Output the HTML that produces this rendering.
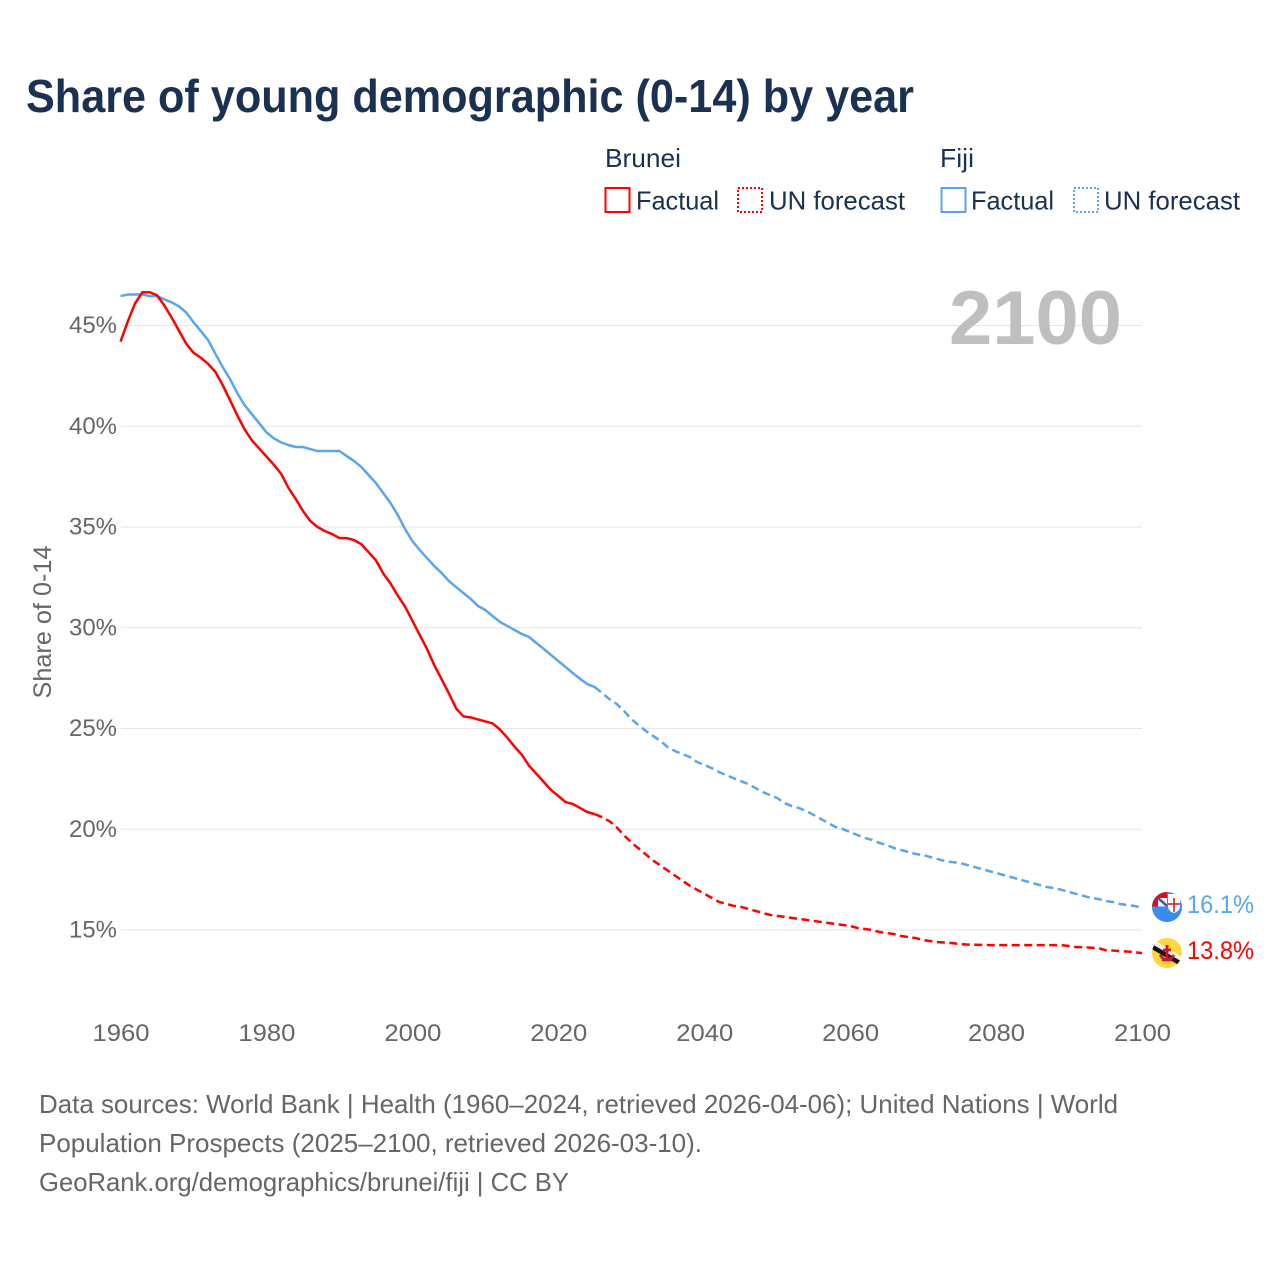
<!DOCTYPE html>
<html lang="en">
<head>
<meta charset="utf-8">
<title>Share of young demographic (0-14) by year</title>
<style>
html,body{margin:0;padding:0;background:#fff;width:1280px;height:1280px;overflow:hidden}
svg{display:block}
text{font-family:"Liberation Sans",sans-serif}
</style>
</head>
<body>
<svg id="chart" xmlns="http://www.w3.org/2000/svg" width="1280" height="1280" viewBox="0 0 1280 1280">
  <rect width="1280" height="1280" fill="#fff"/>
  <text x="26" y="112" font-size="46" font-weight="700" fill="#1a3152" textLength="888" lengthAdjust="spacingAndGlyphs">Share of young demographic (0-14) by year</text>

  <g font-size="26" fill="#1a3152">
    <text x="605" y="167" textLength="76" lengthAdjust="spacingAndGlyphs">Brunei</text>
    <text x="940" y="167" textLength="34" lengthAdjust="spacingAndGlyphs">Fiji</text>
    <rect x="605.5" y="188" width="24" height="24" fill="none" stroke="#ff0000" stroke-width="2"/>
    <text x="636" y="209.5" textLength="83" lengthAdjust="spacingAndGlyphs">Factual</text>
    <rect x="738" y="188" width="24" height="24" fill="none" stroke="#ff0000" stroke-width="2" stroke-dasharray="2 2"/>
    <text x="769" y="209.5" textLength="136" lengthAdjust="spacingAndGlyphs">UN forecast</text>
    <rect x="941.5" y="188" width="24" height="24" fill="none" stroke="#5aa5ec" stroke-width="2"/>
    <text x="971" y="209.5" textLength="83" lengthAdjust="spacingAndGlyphs">Factual</text>
    <rect x="1074" y="188" width="24" height="24" fill="none" stroke="#5aa5ec" stroke-width="2" stroke-dasharray="2 2"/>
    <text x="1104" y="209.5" textLength="136" lengthAdjust="spacingAndGlyphs">UN forecast</text>
  </g>

  <text transform="translate(51,622) rotate(-90)" text-anchor="middle" font-size="25" fill="#666" textLength="153" lengthAdjust="spacingAndGlyphs">Share of 0-14</text>

  <g id="grid"></g>
  <g id="yticks"></g>
  <g id="xticks"></g>

  <text x="949" y="344" font-size="76" font-weight="700" fill="#bfbfbf" textLength="173" lengthAdjust="spacingAndGlyphs">2100</text>

  <g id="series"></g>

  <defs>
    <clipPath id="fiji-clip"><circle cx="1167" cy="907" r="15"/></clipPath>
    <clipPath id="brunei-clip"><circle cx="1167" cy="953" r="15"/></clipPath>
  </defs>
  <g clip-path="url(#fiji-clip)">
    <rect x="1152" y="892" width="30" height="30" fill="#3a8cf0"/>
    <rect x="1152" y="892" width="15" height="14.5" fill="#d2102a"/>
    <rect x="1158" y="898" width="9" height="8.5" fill="#e9eef6"/>
    <path d="M1158 898 L1167 906" stroke="#3a5a8c" stroke-width="2.5"/>
    <path d="M1168 894 H1180 V906 Q1180 911 1174 913 Q1168 911 1168 906 Z" fill="#fff"/>
    <path d="M1174 898 V912 M1168 904 H1180" stroke="#d2102a" stroke-width="1.5"/>
  </g>
  <g clip-path="url(#brunei-clip)">
    <rect x="1152" y="938" width="30" height="30" fill="#fdd83a"/>
    <path d="M1152 942 L1184 961" stroke="#f4f4f4" stroke-width="5"/>
    <path d="M1151 946 L1183 965" stroke="#111" stroke-width="4.5"/>
    <path d="M1167 945 V960 M1160 955 Q1167 965 1174 955 M1163 950 H1171 M1162 960 H1172" stroke="#d81030" stroke-width="2.8" fill="none"/>
  </g>

  <text x="1187" y="913" font-size="25" fill="#5aa5ec" textLength="67" lengthAdjust="spacingAndGlyphs">16.1%</text>
  <text x="1187" y="959" font-size="25" fill="#ff0000" textLength="67" lengthAdjust="spacingAndGlyphs">13.8%</text>

  <g font-size="26" fill="#666">
    <text x="39" y="1113" textLength="1079" lengthAdjust="spacingAndGlyphs">Data sources: World Bank | Health (1960–2024, retrieved 2026-04-06); United Nations | World</text>
    <text x="39" y="1152" textLength="663" lengthAdjust="spacingAndGlyphs">Population Prospects (2025–2100, retrieved 2026-03-10).</text>
    <text x="39" y="1191" textLength="530" lengthAdjust="spacingAndGlyphs">GeoRank.org/demographics/brunei/fiji | CC BY</text>
  </g>
</svg>
<script>
const yTickValues = [15, 20, 25, 30, 35, 40, 45];
const xTickValues = [1960, 1980, 2000, 2020, 2040, 2060, 2080, 2100];
const factualStartYear = 1960;
const forecastStartYear = 2025;
const bruneiFactual = [44.2,45.2,46.1,46.65,46.65,46.5,46.0,45.4,44.75,44.1,43.65,43.4,43.1,42.7,42.05,41.3,40.55,39.85,39.3,38.9,38.5,38.1,37.65,36.95,36.4,35.8,35.3,35.0,34.8,34.65,34.45,34.45,34.35,34.15,33.75,33.35,32.7,32.2,31.6,31.05,30.35,29.65,28.95,28.15,27.45,26.75,26.0,25.6,25.55,25.45,25.35,25.25,24.95,24.55,24.1,23.7,23.15,22.75,22.35,21.95,21.65,21.35,21.25,21.05,20.85,20.75];
const bruneiForecast = [20.75,20.6,20.4,20.1,19.7,19.35,19.05,18.75,18.45,18.2,17.95,17.7,17.45,17.2,17.0,16.8,16.6,16.4,16.3,16.2,16.15,16.05,15.95,15.85,15.75,15.7,15.65,15.6,15.55,15.5,15.45,15.4,15.35,15.3,15.25,15.2,15.1,15.05,15.0,14.9,14.85,14.8,14.7,14.65,14.6,14.5,14.45,14.4,14.38,14.35,14.3,14.28,14.27,14.26,14.25,14.25,14.25,14.25,14.25,14.25,14.25,14.25,14.25,14.25,14.25,14.2,14.15,14.15,14.12,14.1,14.0,13.98,13.95,13.93,13.9,13.85];
const fijiFactual = [46.46,46.54,46.54,46.54,46.46,46.46,46.3,46.15,45.95,45.65,45.17,44.73,44.28,43.6,42.94,42.35,41.65,41.05,40.6,40.16,39.7,39.4,39.2,39.07,38.97,38.97,38.87,38.77,38.77,38.77,38.77,38.52,38.28,37.98,37.58,37.18,36.69,36.19,35.6,34.9,34.3,33.86,33.46,33.06,32.72,32.32,32.02,31.72,31.43,31.08,30.88,30.58,30.29,30.09,29.89,29.69,29.54,29.24,28.95,28.65,28.35,28.05,27.75,27.46,27.2,27.06];
const fijiForecast = [27.06,26.76,26.46,26.22,25.87,25.47,25.17,24.88,24.63,24.38,24.08,23.88,23.73,23.59,23.34,23.19,23.04,22.84,22.69,22.54,22.39,22.25,22.05,21.85,21.7,21.55,21.3,21.15,21.05,20.9,20.71,20.51,20.31,20.11,20.01,19.86,19.71,19.57,19.47,19.32,19.22,19.07,18.97,18.87,18.77,18.72,18.62,18.52,18.42,18.37,18.33,18.23,18.13,18.03,17.93,17.83,17.73,17.63,17.53,17.43,17.33,17.23,17.13,17.08,16.99,16.89,16.79,16.69,16.59,16.54,16.44,16.39,16.29,16.24,16.19,16.1];

const NS = 'http://www.w3.org/2000/svg';
function xScale(year) { return 120.5 + (year - 1960) * (1142 - 120.5) / 140; }
function yScale(v) { return 930 - (v - 15) * 20.15; }

const grid = document.getElementById('grid');
const yticks = document.getElementById('yticks');
yTickValues.forEach(function (v) {
  const line = document.createElementNS(NS, 'line');
  
  
  line.setAttribute('x1', 121);
  line.setAttribute('x2', 1142);
  line.setAttribute('y1', yScale(v));
  line.setAttribute('y2', yScale(v));
  line.setAttribute('stroke', '#e6e6e6');
  line.setAttribute('stroke-width', '1');
  grid.appendChild(line);
  const t = document.createElementNS(NS, 'text');
  
  
  t.setAttribute('x', 69);
  t.setAttribute('y', yScale(v) + 7.5);
  t.setAttribute('font-size', '24');
  t.setAttribute('fill', '#666');
  t.setAttribute('textLength', '48');
  t.setAttribute('lengthAdjust', 'spacingAndGlyphs');
  t.textContent = v + '%';
  yticks.appendChild(t);
});

const xticks = document.getElementById('xticks');
xTickValues.forEach(function (y) {
  const t = document.createElementNS(NS, 'text');
  
  
  t.setAttribute('x', xScale(y) - 28);
  t.setAttribute('y', 1041);
  t.setAttribute('font-size', '24');
  t.setAttribute('fill', '#666');
  t.setAttribute('textLength', '57');
  t.setAttribute('lengthAdjust', 'spacingAndGlyphs');
  t.textContent = y;
  xticks.appendChild(t);
});

function pathFrom(values, startYear) {
  return values.map(function (v, i) {
    return (i ? 'L' : 'M') + xScale(startYear + i).toFixed(2) + ' ' + yScale(v).toFixed(2);
  }).join(' ');
}
const series = document.getElementById('series');
function drawLine(name, values, startYear, color, dashed) {
  const p = document.createElementNS(NS, 'path');
  
  
  p.setAttribute('d', pathFrom(values, startYear));
  p.setAttribute('fill', 'none');
  p.setAttribute('stroke', color);
  p.setAttribute('stroke-width', '2.5');
  p.setAttribute('stroke-linejoin', 'round');
  if (dashed) p.setAttribute('stroke-dasharray', '8 4.5');
  series.appendChild(p);
}
drawLine('fiji-factual-line', fijiFactual, factualStartYear, '#5aa5ec', false);
drawLine('fiji-forecast-line', fijiForecast, forecastStartYear, '#5aa5ec', true);
drawLine('brunei-factual-line', bruneiFactual, factualStartYear, '#ff0000', false);
drawLine('brunei-forecast-line', bruneiForecast, forecastStartYear, '#ff0000', true);
</script>
</body>
</html>
